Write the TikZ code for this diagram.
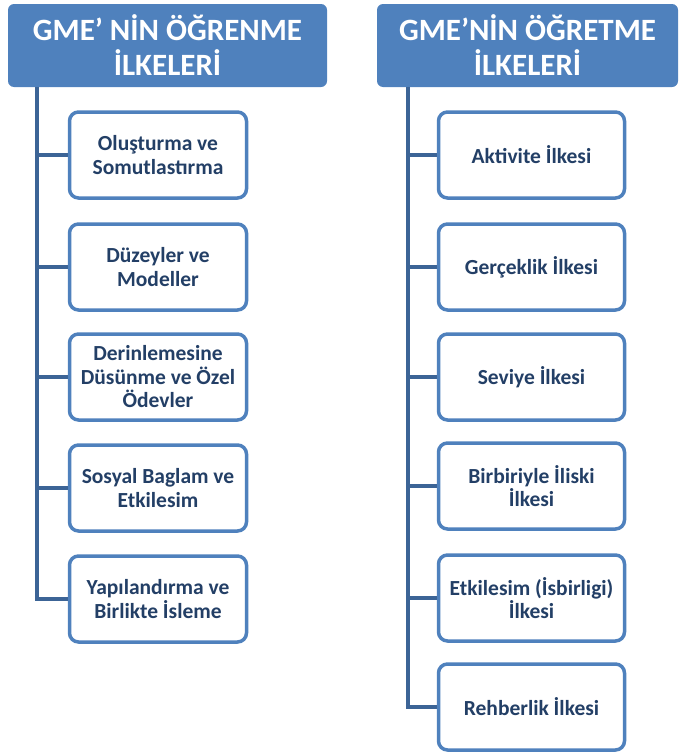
\documentclass[tikz,border=0pt]{standalone}
\usepackage{fontspec}
\setmainfont{Carlito}
\definecolor{hdrblue}{HTML}{4F81BD}
\definecolor{boxborder}{HTML}{4F81BD}
\definecolor{linecol}{HTML}{3C6496}
\definecolor{txtcol}{HTML}{233F66}
\begin{document}
\begin{tikzpicture}[x=1pt,y=-1pt,
  header/.style={draw=none,fill=hdrblue,rounded corners=6pt,text=white,
    font=\bfseries\fontsize{31}{35}\selectfont,align=center,inner sep=0pt},
  itembox/.style={draw=boxborder,line width=3.5pt,fill=white,rounded corners=9pt,
    text=txtcol,font=\bfseries\fontsize{21.5}{23.5}\selectfont,align=center,
    minimum height=86pt,inner sep=0pt},
  lbox/.style={itembox,minimum width=177pt},
  rbox/.style={itembox,minimum width=186pt},
  conn/.style={draw=linecol,line width=4pt}]
\useasboundingbox (0,0) rectangle (681,755);
% headers
\node[header,minimum width=319pt,minimum height=83pt] (lh) at (167.5,45.5) {GME’ NİN ÖĞRENME\\İLKELERİ};
\node[header,minimum width=301pt,minimum height=83pt] (rh) at (527.5,45.5) {GME’NİN ÖĞRETME\\İLKELERİ};
% trunk coordinates
\coordinate (tl) at (37,0);
\coordinate (tr) at (408,0);
% left boxes
\node[lbox] (l1) at (158,155) {Oluşturma ve\\Somutlastırma};
\node[lbox] (l2) at (158,267) {Düzeyler ve\\Modeller};
\node[lbox] (l3) at (158,377) {Derinlemesine\\Düsünme ve Özel\\Ödevler};
\node[lbox] (l4) at (158,488) {Sosyal Baglam ve\\Etkilesim};
\node[lbox] (l5) at (158,599) {Yapılandırma ve\\Birlikte İsleme};
% right boxes
\node[rbox] (r1) at (531.5,155) {Aktivite İlkesi};
\node[rbox] (r2) at (531.5,267) {Gerçeklik İlkesi};
\node[rbox] (r3) at (531.5,377) {Seviye İlkesi};
\node[rbox] (r4) at (531.5,486) {Birbiriyle İliski\\İlkesi};
\node[rbox] (r5) at (531.5,598) {Etkilesim (İsbirligi)\\İlkesi};
\node[rbox] (r6) at (531.5,707) {Rehberlik İlkesi};
% connectors
\draw[conn] (lh.south -| tl) -- (tl |- l5.west) -- (l5.west);
\foreach \n in {l1,l2,l3,l4} \draw[conn] (tl |- \n.west) -- (\n.west);
\draw[conn] (rh.south -| tr) -- (tr |- r6.west) -- (r6.west);
\foreach \n in {r1,r2,r3,r4,r5} \draw[conn] (tr |- \n.west) -- (\n.west);
\end{tikzpicture}
\end{document}
